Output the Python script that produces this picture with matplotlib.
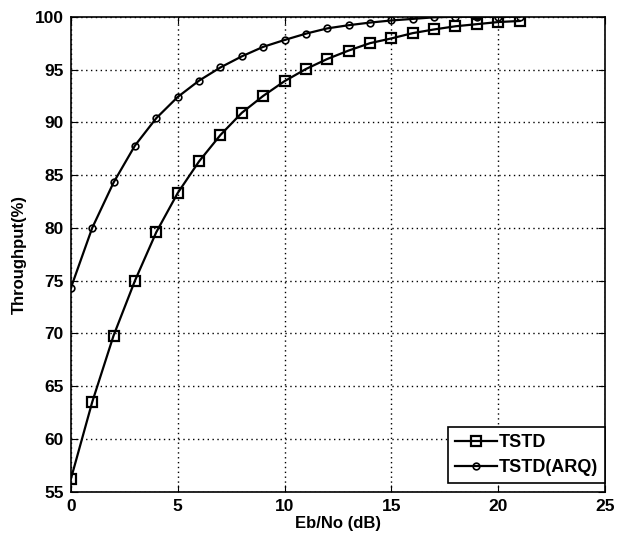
import matplotlib
matplotlib.use("Agg")
import matplotlib.pyplot as plt

x = list(range(0, 22))
tstd = [56.2, 63.5, 69.8, 75.0, 79.6, 83.3, 86.3, 88.8, 90.9, 92.5, 93.9,
        95.05, 96.0, 96.8, 97.5, 97.95, 98.45, 98.8, 99.1, 99.3, 99.5, 99.6]
tstd_arq = [74.3, 80.0, 84.3, 87.8, 90.4, 92.4, 93.95, 95.2, 96.25, 97.15, 97.8,
            98.4, 98.9, 99.2, 99.45, 99.65, 99.8, 99.95, 100.0, 100.0, 100.0, 100.0]
xticks = [0, 5, 10, 15, 20, 25]
yticks = [55, 60, 65, 70, 75, 80, 85, 90, 95, 100]

plt.rcParams['font.family'] = ['Liberation Sans', 'DejaVu Sans']
plt.rcParams['font.weight'] = 'bold'

fig = plt.figure(figsize=(6.27, 5.41), dpi=100)
ax = fig.add_axes([0.113, 0.091, 0.852, 0.878])

ax.plot(x, tstd, color='black', lw=1.6, marker='s', markersize=6.5,
        markerfacecolor='none', markeredgecolor='black', markeredgewidth=1.6, label='TSTD')
ax.plot(x, tstd_arq, color='black', lw=1.6, marker='o', markersize=4.8,
        markerfacecolor='none', markeredgecolor='black', markeredgewidth=1.2, label='TSTD(ARQ)')

ax.set_xlim(0, 25)
ax.set_ylim(55, 100)
ax.set_xticks(xticks)
ax.set_yticks(yticks)
ax.tick_params(direction='in', top=True, right=True, labelsize=12.5, length=5, pad=5)
for lab in ax.get_xticklabels() + ax.get_yticklabels():
    lab.set_fontweight('bold')
ax.grid(True, linestyle=(0, (1, 2.5)), color='black', lw=1.0)
for s in ax.spines.values():
    s.set_linewidth(1.2)

ax.set_xlabel('Eb/No (dB)', fontsize=12, fontweight='bold', labelpad=2)
ax.set_ylabel('Throughput(%)', fontsize=12, fontweight='bold', labelpad=6)

leg = ax.legend(loc='lower right', bbox_to_anchor=(1.0, 0.018), fontsize=13,
                fancybox=False, framealpha=1, edgecolor='black', borderaxespad=0.0,
                handlelength=2.3, handletextpad=0.1, labelspacing=0.45, borderpad=0.4)
leg.get_frame().set_linewidth(1.2)
for t in leg.get_texts():
    t.set_fontweight('bold')

fig.savefig('out.png', dpi=100)
